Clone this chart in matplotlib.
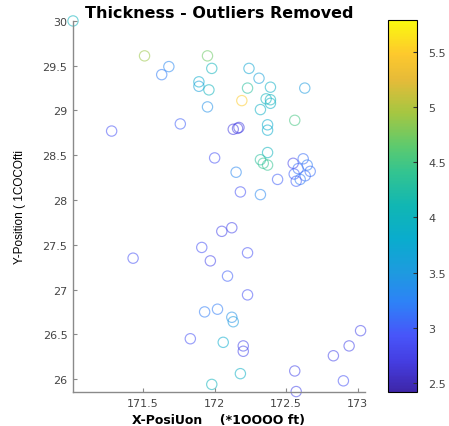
import matplotlib
matplotlib.use("Agg")
import matplotlib.pyplot as plt
import numpy as np
from matplotlib.colors import LinearSegmentedColormap, Normalize

# Data (x in *10000 ft, y in *10000 ft, thickness)
x_pos = [171.01, 171.51, 171.68, 171.63, 171.95, 171.98, 171.89, 171.89, 171.96, 171.95,
         171.76, 171.28, 172.00, 172.13, 172.16, 172.17,
         172.24, 172.31, 172.23, 172.39, 172.63, 172.19, 172.36, 172.39, 172.39, 172.32,
         172.56, 172.37, 172.37, 172.37, 172.32, 172.34, 172.37, 172.15, 172.44, 172.18, 172.32,
         172.549, 172.619, 172.647, 172.584, 172.668, 172.556, 172.633, 172.598, 172.570,
         171.43, 171.91, 171.97, 172.05, 172.12, 172.09, 172.23, 172.23,
         171.93, 172.02, 172.12, 172.13, 171.83, 172.06, 172.20, 172.20, 172.18, 171.98,
         172.56, 172.57, 172.83, 172.94, 173.02, 172.90]
y_pos = [30.00, 29.61, 29.49, 29.40, 29.61, 29.47, 29.32, 29.27, 29.23, 29.04,
         28.85, 28.77, 28.47, 28.79, 28.80, 28.81,
         29.47, 29.36, 29.25, 29.26, 29.25, 29.11, 29.13, 29.12, 29.08, 29.01,
         28.89, 28.84, 28.78, 28.53, 28.45, 28.41, 28.39, 28.31, 28.23, 28.09, 28.06,
         28.41, 28.46, 28.39, 28.35, 28.32, 28.29, 28.27, 28.23, 28.21,
         27.35, 27.47, 27.32, 27.65, 27.69, 27.15, 27.41, 26.94,
         26.75, 26.78, 26.69, 26.64, 26.45, 26.41, 26.37, 26.31, 26.06, 25.94,
         26.09, 25.86, 26.26, 26.37, 26.54, 25.98]
thickness = [4.0, 4.9, 3.3, 3.2, 4.7, 4.0, 3.8, 3.6, 4.0, 3.4,
             3.0, 2.9, 2.9, 2.7, 2.7, 2.7,
             3.7, 3.6, 4.3, 3.9, 3.5, 5.5, 4.0, 4.0, 3.9, 3.9,
             4.5, 3.8, 3.8, 4.0, 4.3, 4.4, 4.4, 3.3, 3.0, 2.9, 3.3,
             2.8, 3.1, 3.2, 3.1, 3.1, 3.0, 3.1, 3.2, 3.0,
             2.9, 2.9, 2.8, 2.8, 2.8, 3.0, 2.9, 2.9,
             3.2, 3.2, 3.4, 3.5, 2.9, 3.8, 2.8, 2.8, 3.9, 4.0,
             2.8, 2.8, 2.8, 2.8, 2.8, 2.9]

x_ticks = [171.5, 172, 172.5, 173]
x_tick_labels = ["171.5", "172", "172.5", "173"]
y_ticks = [26, 26.5, 27, 27.5, 28, 28.5, 29, 29.5, 30]
y_tick_labels = ["26", "26.5", "27", "27.5", "28", "28.5", "29", "29.5", "30"]
cb_ticks = [2.5, 3, 3.5, 4, 4.5, 5, 5.5]
cb_tick_labels = ["2.5", "3", "3.5", "4", "4.5", "5", "5.5"]

parula_stops = [
    (0.00, (0.2422, 0.1504, 0.6603)),
    (0.08, (0.2691, 0.2395, 0.8830)),
    (0.15, (0.2810, 0.3328, 0.9779)),
    (0.24, (0.1786, 0.5089, 0.9682)),
    (0.32, (0.1164, 0.6054, 0.8754)),
    (0.41, (0.0383, 0.6742, 0.8050)),
    (0.50, (0.0641, 0.7150, 0.7031)),
    (0.59, (0.1990, 0.7677, 0.5674)),
    (0.66, (0.3629, 0.7929, 0.4333)),
    (0.75, (0.6473, 0.7786, 0.2563)),
    (0.84, (0.9018, 0.7334, 0.2216)),
    (0.91, (0.9956, 0.7871, 0.1752)),
    (1.00, (0.9763, 0.9831, 0.0538)),
]
parula = LinearSegmentedColormap.from_list("parula", parula_stops)

fig = plt.figure(figsize=(4.49, 4.27), dpi=100)
ax = fig.add_axes([0.1626, 0.0796, 0.650, 0.869])
cax = fig.add_axes([0.864, 0.0796, 0.0646, 0.872])

norm = Normalize(vmin=2.42, vmax=5.79)
sc = ax.scatter(x_pos, y_pos, s=55, facecolors="none",
                edgecolors=parula(norm(np.array(thickness))),
                linewidths=0.85, alpha=0.55, clip_on=False)

ax.set_xlim(171.01, 173.05)
ax.set_ylim(25.855, 30.0)
ax.set_xticks(x_ticks)
ax.set_xticklabels(x_tick_labels)
ax.set_yticks(y_ticks)
ax.set_yticklabels(y_tick_labels)

for sp in ["top", "right"]:
    ax.spines[sp].set_visible(False)
for sp in ["left", "bottom"]:
    ax.spines[sp].set_color("#8a8a8a")
    ax.spines[sp].set_linewidth(1.0)
ax.tick_params(direction="in", length=3, color="#8a8a8a", labelsize=8,
               labelcolor="#444444", pad=4)
for lab in ax.get_xticklabels() + ax.get_yticklabels():
    lab.set_family("DejaVu Sans")

ax.set_title("Thickness - Outliers Removed", fontsize=11.5, fontweight="bold",
             family="DejaVu Sans", pad=3)
ax.set_xlabel("X-PosiUon    (*1OOOO ft)", fontsize=9, fontweight="bold",
              family="DejaVu Sans", labelpad=4)
ax.set_ylabel("Y-Position ( 1COCOfti", fontsize=8.5, family="Liberation Sans",
              labelpad=12)

sm = plt.cm.ScalarMappable(norm=norm, cmap=parula)
cb = fig.colorbar(sm, cax=cax)
cb.set_ticks(cb_ticks)
cb.set_ticklabels(cb_tick_labels)
cb.ax.tick_params(direction="in", length=3, labelsize=8, labelcolor="#444444",
                  color="#333333", pad=8)
for lab in cb.ax.get_yticklabels():
    lab.set_family("DejaVu Sans")
cb.outline.set_linewidth(0.8)

fig.savefig("out.png", dpi=100)
